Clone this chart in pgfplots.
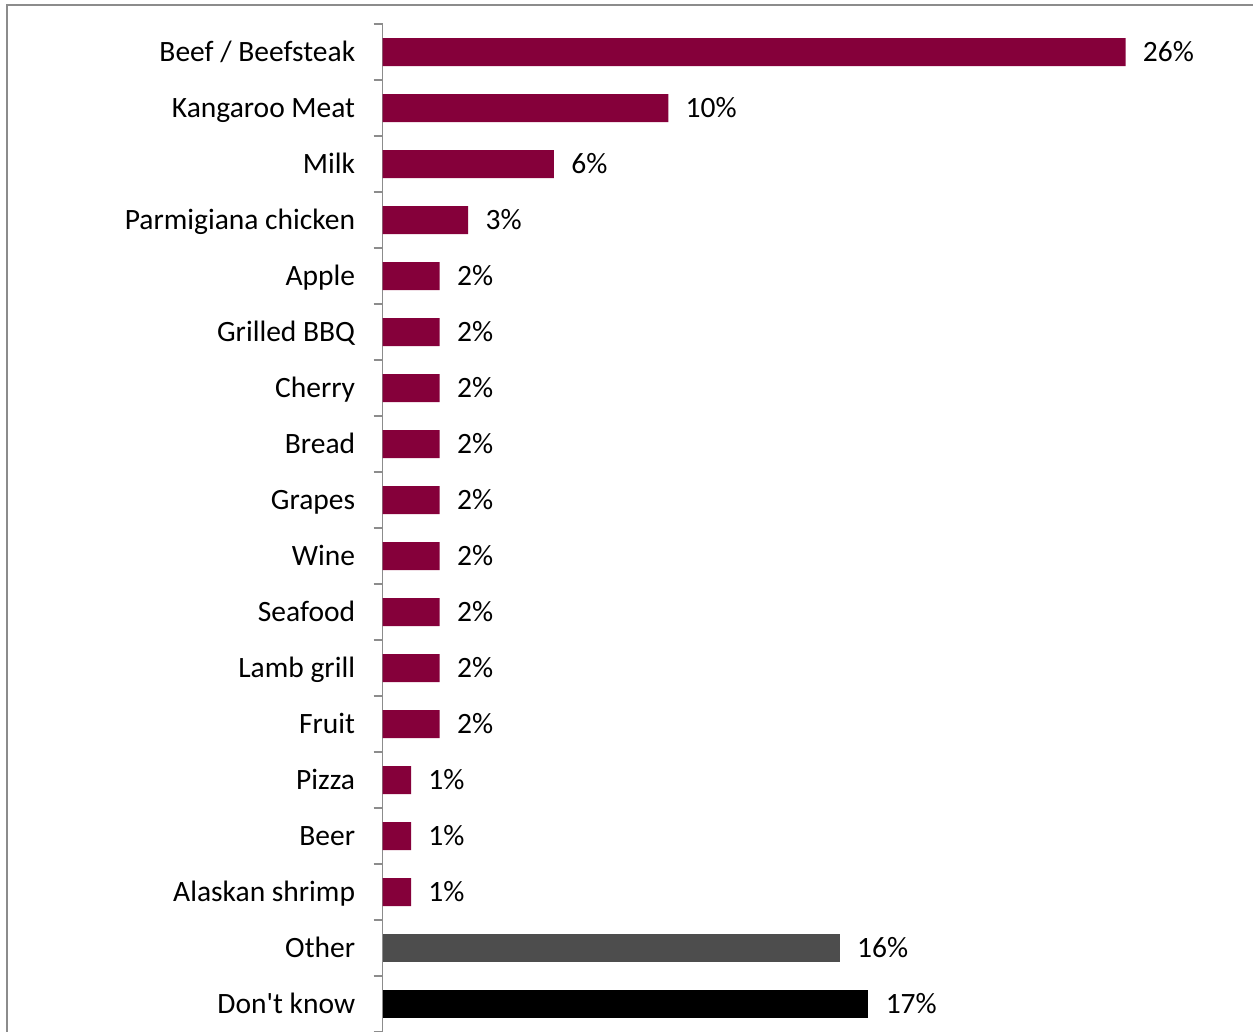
\documentclass[border=0pt]{standalone}
\usepackage{pgfplots}
\pgfplotsset{compat=1.18}
\usepackage{fontspec}
\setmainfont{Carlito}
\definecolor{maroon}{HTML}{85003A}
\definecolor{darkbar}{HTML}{4D4D4D}
\definecolor{framegray}{HTML}{8C8C8C}
\begin{document}
\begin{tikzpicture}
\useasboundingbox (0,0) rectangle (626.5pt,-516pt);
\clip (0,0) rectangle (626.5pt,-516pt);
\draw[framegray, line width=1pt] (3.5pt,-2.5pt) rectangle (700pt,-600pt);
\begin{axis}[
 at={(191.25pt,-12pt)}, anchor=north west,
 scale only axis, width=428.7pt, height=504pt,
 xmin=0, xmax=30, ymin=-0.5, ymax=17.5, y dir=reverse,
 xbar, bar width=14pt, bar shift=0pt,
 axis x line=none, axis y line*=left,
 /pgf/number format/assume math mode=true,
 ytick={0,...,17},
 yticklabels={Beef / Beefsteak,Kangaroo Meat,Milk,Parmigiana chicken,Apple,Grilled BBQ,Cherry,Bread,Grapes,Wine,Seafood,Lamb grill,Fruit,Pizza,Beer,Alaskan shrimp,Other,Don\textquotesingle t know},
 major tick length=0pt,
 minor ytick={-0.5,0.5,...,17.5}, minor tick length=4.5pt, tick align=outside,
 y axis line style={framegray, line width=0.75pt},
 tick style={framegray, line width=0.75pt},
 yticklabel style={anchor=east, inner sep=0pt, xshift=-13.5pt, text height=12pt, text depth=2.3pt, font=\fontsize{14.75}{17}\selectfont},
 point meta=x,
 nodes near coords={\pgfmathprintnumber[assume math mode=true]{\pgfplotspointmeta}\%},
 nodes near coords style={anchor=west, inner sep=0pt, xshift=8.5pt, text height=12pt, text depth=2.3pt, font=\fontsize{14.75}{17}\selectfont, text=black},
 clip=false,
]
\addplot[fill=maroon, draw=none] coordinates {(26,0)(10,1)(6,2)(3,3)(2,4)(2,5)(2,6)(2,7)(2,8)(2,9)(2,10)(2,11)(2,12)(1,13)(1,14)(1,15)};
\addplot[fill=darkbar, draw=none] coordinates {(16,16)};
\addplot[fill=black, draw=none] coordinates {(17,17)};
\end{axis}
\end{tikzpicture}
\end{document}
